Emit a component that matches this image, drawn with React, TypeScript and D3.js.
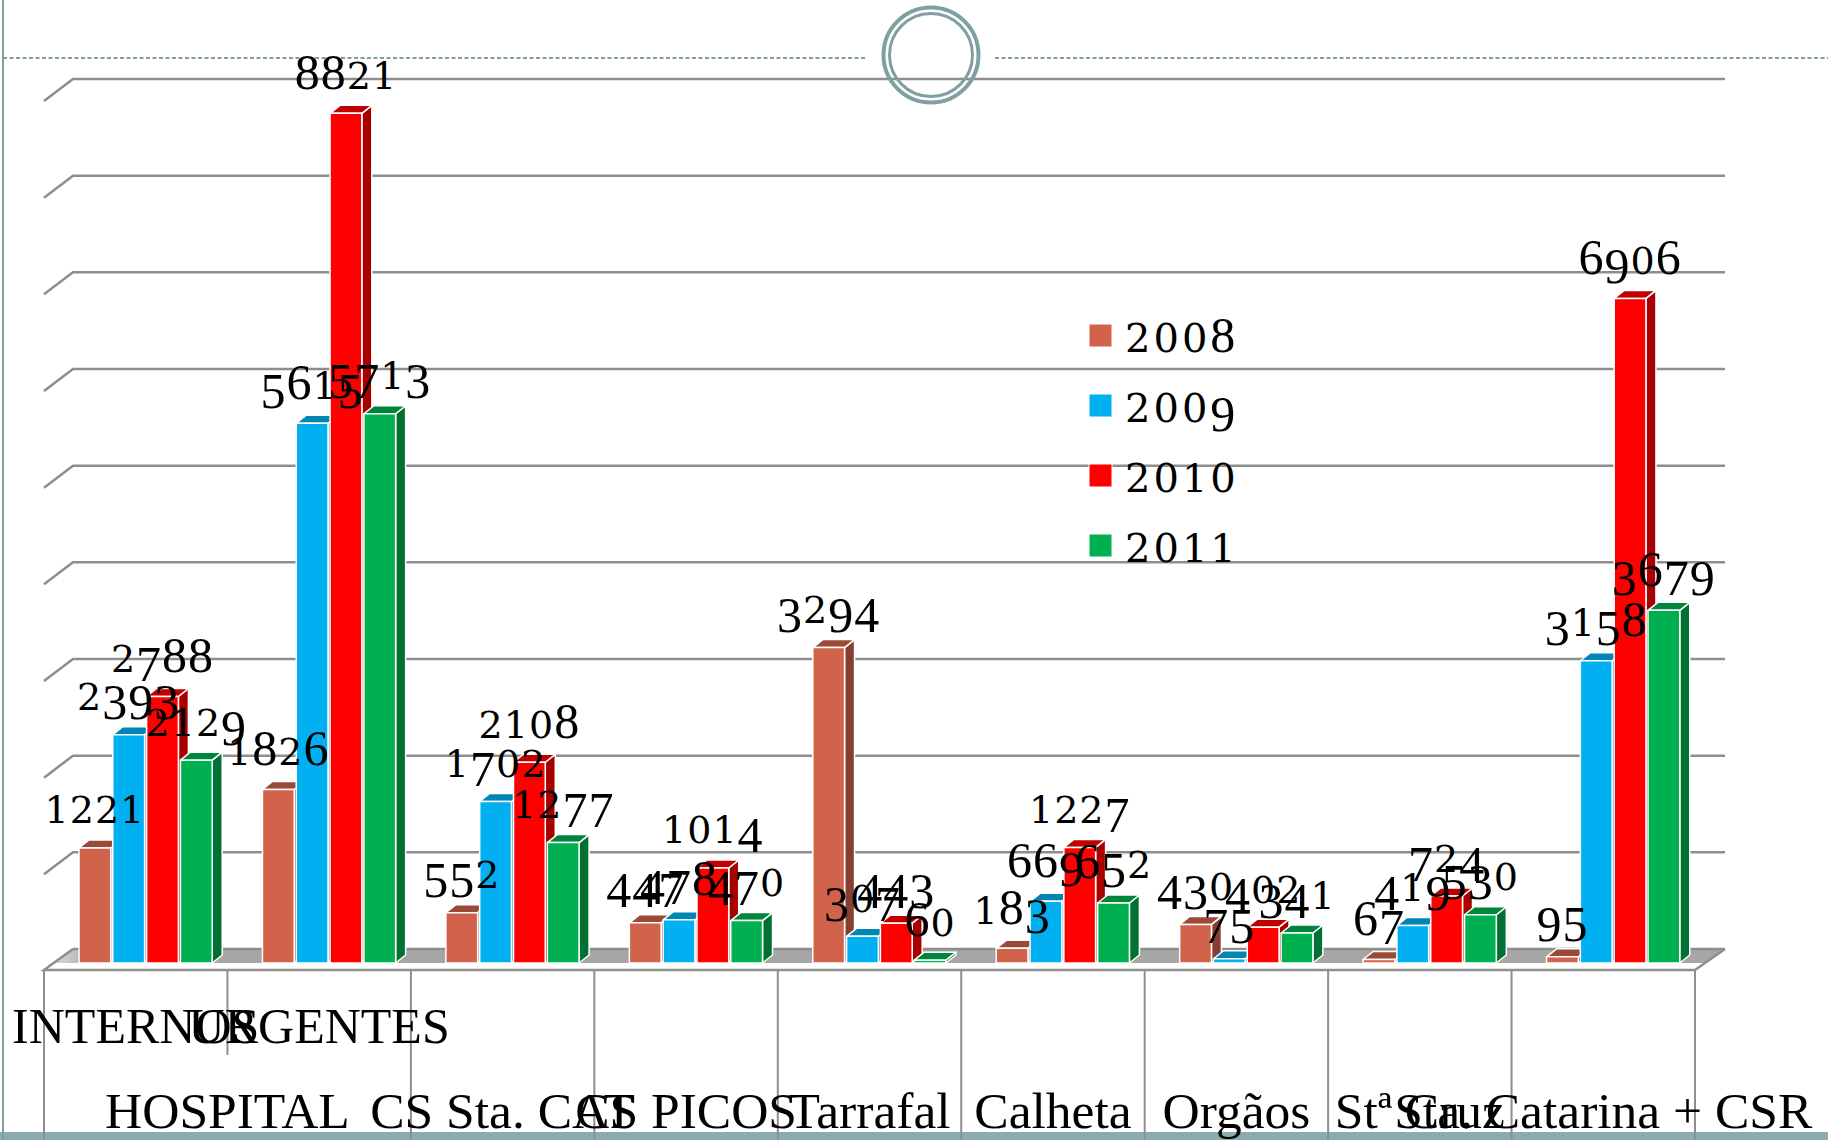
import React from "react";
import * as d3 from "d3";

const categories = ["INTERNOS", "URGENTES", "CS Sta. CAT", "CS PICOS", "Tarrafal", "Calheta", "Orgãos", "Stª Cruz", "Sta. Catarina + CSR"];
const years = ["2008", "2009", "2010", "2011"];
const values2008 = [1221, 1826, 552, 447, 3294, 183, 430, 67, 95];
const values2009 = [2393, 5615, 1702, 478, 307, 669, 75, 419, 3158];
const values2010 = [2788, 8821, 2108, 1014, 443, 1227, 402, 724, 6906];
const values2011 = [2129, 5713, 1277, 470, 60, 652, 341, 530, 3679];
const seriesValues = [values2008, values2009, values2010, values2011];
const frontColors = ["#D1634A", "#00B0F0", "#FF0000", "#00B050"];
const topColors = ["#9C4A38", "#0085B5", "#C00000", "#00853C"];
const sideColors = ["#853F30", "#0071A0", "#A80000", "#007033"];
const gridTicks = d3.range(1000, 10000, 1000);
const groupLabel = "HOSPITAL";

const W = 1828, H = 1140;
const TEAL = "#7F9FA1";
const GRID = "#8E8E8E";
const SERIF = "'Liberation Serif', serif";

// Old-style figures: x-height 0 1 2, descending 3 4 5 7 9, ascending 6 8.
function Figures({ text, x, y, anchor, small, spacing }: { text: string; x: number; y: number; anchor: string; small: number; spacing: number }) {
  let shift = 0;
  return (
    <text x={x} y={y} textAnchor={anchor} fontFamily={SERIF} fontSize={50} fill="#000" letterSpacing={spacing}>
      {text.split("").map((c, i) => {
        const isSmall = "012".includes(c);
        const target = "34579".includes(c) ? 9 : 0;
        const dy = target - shift;
        shift = target;
        return (
          <tspan key={i} dy={dy} fontFamily={isSmall ? "'DejaVu Serif', serif" : SERIF} fontSize={isSmall ? small : 50}>
            {c}
          </tspan>
        );
      })}
    </text>
  );
}

export default function App() {
  const x0 = d3.scaleBand<string>().domain(categories).range([44, 1695]);
  const x1 = d3.scaleBand<string>().domain(years).range([35, 168.2]).paddingInner(0.06).paddingOuter(0);
  const y = d3.scaleLinear().domain([0, 9000]).range([949, 79]);
  const step = x0.step();
  const front = 17, dx = 10, dy = 8, base = 963;
  const pts = (a: number[][]) => a.map((p) => p.join(",")).join(" ");

  return (
    <svg width={W} height={H} viewBox={`0 0 ${W} ${H}`} style={{ position: "absolute", left: 0, top: 0, background: "#fff" }}>
      <defs>
        <linearGradient id="floorFade" gradientUnits="userSpaceOnUse" x1={50} x2={95} y1={0} y2={0}>
          <stop offset="0" stopColor="#DDDDDD" />
          <stop offset="1" stopColor="#A6A6A6" />
        </linearGradient>
      </defs>

      <rect x={0} y={1132} width={W} height={8} fill="#8BABAD" />
      <line x1={3} x2={3} y1={0} y2={H} stroke={TEAL} strokeWidth={2} />
      <line x1={3} x2={865} y1={58} y2={58} stroke={TEAL} strokeWidth={2} strokeDasharray="4 2.5" />
      <line x1={995} x2={W} y1={58} y2={58} stroke={TEAL} strokeWidth={2} strokeDasharray="4 2.5" />

      {gridTicks.map((t) => (
        <g key={t} stroke={GRID} strokeWidth={2.5} fill="none">
          <polyline points={pts([[44, y(t) + 22], [73, y(t)], [1725, y(t)]])} />
        </g>
      ))}

      <circle cx={931} cy={55} r={47.5} fill="none" stroke={TEAL} strokeWidth={4} />
      <circle cx={931} cy={55} r={41.5} fill="none" stroke={TEAL} strokeWidth={3} />

      <polygon points={pts([[73, 949], [1725, 949], [1705, 963], [54, 963]])} fill="url(#floorFade)" />
      <line x1={73} x2={1725} y1={949} y2={949} stroke={GRID} strokeWidth={2.5} />
      <polyline points={pts([[73, 949], [44, 970], [1695, 970], [1725, 949]])} fill="none" stroke={GRID} strokeWidth={2.5} />

      {d3.range(categories.length + 1).map((i) => (
        <line key={i} x1={44 + i * step} x2={44 + i * step} y1={970} y2={i === 1 ? 1055 : H} stroke={GRID} strokeWidth={2} />
      ))}

      {categories.map((c, ci) =>
        years.map((yr, si) => {
          const v = seriesValues[si][ci];
          const l = (x0(c) as number) + (x1(yr) as number);
          const r = l + x1.bandwidth();
          const t = Math.min(y(v) + front, base - 2);
          return (
            <g key={yr} stroke="#fff" strokeWidth={1.5} strokeLinejoin="round">
              <polygon points={pts([[r, t], [r + dx, t - dy], [r + dx, base - dy], [r, base]])} fill={sideColors[si]} />
              <polygon points={pts([[l, t], [l + dx, t - dy], [r + dx, t - dy], [r, t]])} fill={topColors[si]} />
              <rect x={l} y={t} width={r - l} height={base - t} fill={frontColors[si]} />
            </g>
          );
        })
      )}

      {categories.map((c, ci) =>
        years.map((yr, si) => {
          const v = seriesValues[si][ci];
          const cx = (x0(c) as number) + (x1(yr) as number) + x1.bandwidth() / 2;
          const t = Math.min(y(v) + front, base - 2);
          return <Figures key={yr} text={String(v)} x={cx} y={t - 24.5} anchor="middle" small={38} spacing={1} />;
        })
      )}

      {years.map((yr, i) => (
        <g key={yr}>
          <rect x={1089} y={324 + i * 70} width={23} height={23} fill={frontColors[i]} stroke="#fff" strokeWidth={1} />
          <Figures text={yr} x={1125} y={351.5 + i * 70} anchor="start" small={40} spacing={3} />
        </g>
      ))}

      <g fontFamily={SERIF} fill="#000" textAnchor="middle">
        <g fontSize={50}>
          <text x={(x0(categories[0]) as number) + step / 2} y={1043}>{categories[0]}</text>
          <text x={(x0(categories[1]) as number) + step / 2} y={1043}>{categories[1]}</text>
        </g>
        <g fontSize={51.5}>
          <text x={x0(categories[1]) as number} y={1128}>{groupLabel}</text>
          {categories.slice(2).map((c) => (
            <text key={c} x={(x0(c) as number) + step / 2} y={1128}>{c}</text>
          ))}
        </g>
      </g>
    </svg>
  );
}
